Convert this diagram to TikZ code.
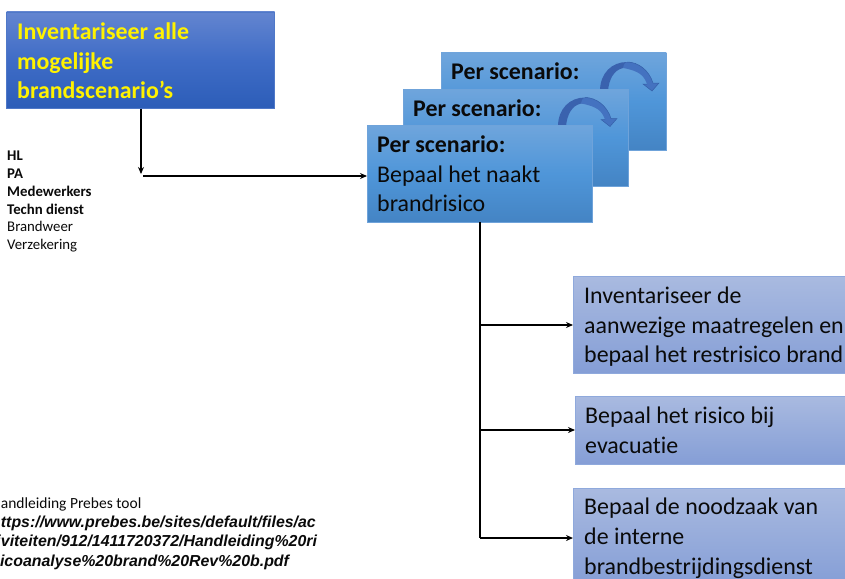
\documentclass[tikz,border=0pt]{standalone}
\usepackage{fontspec}
\setmainfont[Ligatures=NoCommon]{Carlito}
\newfontfamily\urlfont{Liberation Sans}
\usetikzlibrary{arrows.meta}
\definecolor{ink}{HTML}{0A0A0A}
\definecolor{navyT}{HTML}{6385D0}
\definecolor{navyM}{HTML}{3F6CC6}
\definecolor{navyB}{HTML}{2C5DB8}
\definecolor{navyE}{HTML}{4F78C8}
\definecolor{blueT}{HTML}{6FA5DC}
\definecolor{blueM}{HTML}{4F96D9}
\definecolor{blueB}{HTML}{4484C4}
\definecolor{blueE}{HTML}{6FA3DA}
\definecolor{paleT}{HTML}{A9BAE0}
\definecolor{paleB}{HTML}{859ED6}
\definecolor{paleE}{HTML}{8FA9DC}
\definecolor{curveD}{HTML}{3A62AE}
\definecolor{curveL}{HTML}{4472C0}
\definecolor{curveE}{HTML}{3560A8}
\tikzset{
  x=1pt,y=-1pt,
  box/.style={anchor=north west,inner sep=0pt,outer sep=0pt,draw=#1,line width=0.8pt},
  navybox/.style={box=navyE,top color=navyT,bottom color=navyB,middle color=navyM},
  bluebox/.style={box=blueE,top color=blueT,bottom color=blueB,middle color=blueM},
  palebox/.style={box=paleE,top color=paleT,bottom color=paleB},
  boxtext/.style={anchor=north west,inner sep=0pt,align=left,font=\fontsize{23.9}{29.6}\selectfont,text=ink},
  smalltext/.style={anchor=north west,inner sep=0pt,align=left,font=\fontsize{14.8}{17.8}\selectfont,text=ink},
  urltext/.style={anchor=north west,inner sep=0pt,align=left,font=\urlfont\bfseries\itshape\fontsize{15.9}{19.2}\selectfont,text=ink},
  conn/.style={draw=black,line width=1.3pt,-{Stealth[length=7pt,width=6pt]}},
  trunk/.style={draw=black,line width=1.3pt},
  curvearrow/.pic={
    \fill[curveD] (0,29) .. controls (0,11) and (12,0) .. (27,0)
       .. controls (32,0) and (36,2) .. (38,7)
       .. controls (34,6) and (28,5) .. (23,6)
       .. controls (14,8) and (9,17) .. (8,29) -- cycle;
    \fill[curveL] (27,0) .. controls (38,0) and (49,8) .. (53,21) -- (59,21) -- (52,29) -- (43,22) -- (47,22)
       .. controls (44,14) and (40,9) .. (23,6) .. controls (24,2) and (25,0) .. (27,0) -- cycle;
    \draw[curveE,line width=0.5pt] (27,0) .. controls (38,0) and (49,8) .. (53,21) -- (59,21) -- (52,29) -- (43,22) -- (47,22);
  }
}
\begin{document}
\begin{tikzpicture}
\useasboundingbox (0,0) rectangle (845,578);
\clip (0,0) rectangle (845,578);
% top-left box
\node[navybox,minimum width=268pt,minimum height=96.6pt] (inv) at (6.7,12) {};
\node[boxtext,text=yellow,font=\bfseries\fontsize{23.9}{29.6}\selectfont] (invt) at (17,22.5) {Inventariseer alle\\mogelijke\\brandscenario’s};
% stacked boxes
\node[bluebox,minimum width=225.3pt,minimum height=97pt] (back) at (441,53) {};
\node[boxtext] (backt) at (451,63) {\textbf{Per scenario:}};
\pic at (600,62) {curvearrow};
\node[bluebox,minimum width=225.3pt,minimum height=97pt] (mid) at (403,89) {};
\node[boxtext] (midt) at (413,99.5) {\textbf{Per scenario:}};
\pic at (558,97.5) {curvearrow};
\node[bluebox,minimum width=225.3pt,minimum height=97pt] (front) at (367,125) {};
\node[boxtext] (frontt) at (377,135.5) {\textbf{Per scenario:}\\Bepaal het naakt\\brandrisico};
% right boxes
\node[palebox,minimum width=280pt,minimum height=97pt] (r1) at (573,276) {};
\node[boxtext] (r1t) at (584,287) {Inventariseer de\\aanwezige maatregelen en\\bepaal het restrisico brand};
\node[palebox,minimum width=280pt,minimum height=68pt] (r2) at (575,396) {};
\node[boxtext] (r2t) at (585,407) {Bepaal het risico bij\\evacuatie};
\node[palebox,minimum width=280pt,minimum height=97pt] (r3) at (573,488) {};
\node[boxtext] (r3t) at (584,498) {Bepaal de noodzaak van\\de interne\\brandbestrijdingsdienst};
% side texts
\node[smalltext] (people) at (7,151) {\textbf{HL}\\\textbf{PA}\\\textbf{Medewerkers}\\\textbf{Techn dienst}\\Brandweer\\Verzekering};
\node[smalltext,font=\fontsize{15.5}{19}\selectfont] (hand) at (-9,498) {Handleiding Prebes tool};
\node[urltext] (url) at (-9,516) {https://www.prebes.be/sites/default/files/ac\\tiviteiten/912/1411720372/Handleiding\%20ri\\sicoanalyse\%20brand\%20Rev\%20b.pdf};
% connectors
\coordinate (drop) at (141,174);
\coordinate (startH) at (143,176);
\coordinate (t1) at (480,325);
\coordinate (t2) at (480,430);
\coordinate (t3) at (480,538);
\draw[conn] (inv.south -| drop) -- (drop);
\draw[conn] (startH) -- (front.west |- startH);
\draw[trunk] (front.south -| t1) -- (t3);
\draw[conn] (t1) -- (r1.west |- t1);
\draw[conn] (t2) -- (r2.west |- t2);
\draw[conn] (t3) -- (r3.west |- t3);
\end{tikzpicture}
\end{document}
